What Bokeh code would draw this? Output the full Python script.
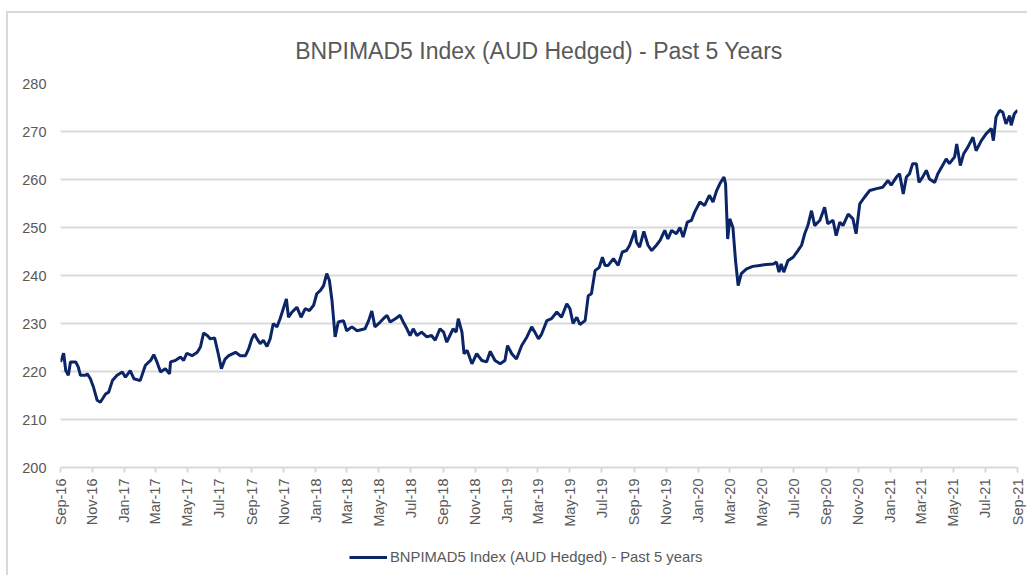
import pandas as pd
from bokeh.plotting import figure
from bokeh.layouts import column
from bokeh.models import (ColumnDataSource, Range1d, MonthsTicker, DatetimeTickFormatter,
                          SingleIntervalTicker, Legend, LegendItem)
from bokeh.embed import file_html
from bokeh.resources import INLINE
from math import pi

title_text = "BNPIMAD5 Index (AUD Hedged) - Past 5 Years"
series_name = "BNPIMAD5 Index (AUD Hedged) - Past 5 years"

dates = [
    "2016-09-01", "2016-09-07", "2016-09-11", "2016-09-16", "2016-09-20", "2016-09-30",
    "2016-10-05", "2016-10-09", "2016-10-19", "2016-10-22", "2016-10-28", "2016-11-03",
    "2016-11-10", "2016-11-16", "2016-11-26", "2016-12-02", "2016-12-09", "2016-12-18",
    "2016-12-28", "2017-01-03", "2017-01-12", "2017-01-19", "2017-01-31", "2017-02-10",
    "2017-02-20", "2017-02-26", "2017-03-04", "2017-03-11", "2017-03-20", "2017-03-28",
    "2017-03-30", "2017-04-08", "2017-04-18", "2017-04-24", "2017-04-30", "2017-05-10",
    "2017-05-20", "2017-05-26", "2017-06-01", "2017-06-08", "2017-06-14", "2017-06-22",
    "2017-06-29", "2017-07-05", "2017-07-12", "2017-07-19", "2017-08-01", "2017-08-10",
    "2017-08-20", "2017-08-26", "2017-09-01", "2017-09-06", "2017-09-11", "2017-09-17",
    "2017-09-23", "2017-09-30", "2017-10-06", "2017-10-12", "2017-10-19", "2017-10-25",
    "2017-11-01", "2017-11-06", "2017-11-10", "2017-11-17", "2017-11-26", "2017-12-04",
    "2017-12-12", "2017-12-20", "2017-12-28", "2018-01-03", "2018-01-10", "2018-01-16",
    "2018-01-22", "2018-01-27", "2018-02-01", "2018-02-07", "2018-02-13", "2018-02-23",
    "2018-03-01", "2018-03-11", "2018-03-21", "2018-04-05", "2018-04-12", "2018-04-18",
    "2018-04-24", "2018-05-04", "2018-05-10", "2018-05-17", "2018-05-23", "2018-06-02",
    "2018-06-11", "2018-06-17", "2018-06-24", "2018-06-30", "2018-07-06", "2018-07-13",
    "2018-07-22", "2018-08-01", "2018-08-10", "2018-08-17", "2018-08-26", "2018-09-02",
    "2018-09-08", "2018-09-14", "2018-09-20", "2018-09-26", "2018-09-30", "2018-10-07",
    "2018-10-11", "2018-10-17", "2018-10-26", "2018-11-04", "2018-11-14", "2018-11-23",
    "2018-11-30", "2018-12-09", "2018-12-19", "2018-12-28", "2019-01-02", "2019-01-10",
    "2019-01-19", "2019-01-29", "2019-02-08", "2019-02-17", "2019-02-23", "2019-03-02",
    "2019-03-08", "2019-03-18", "2019-03-27", "2019-04-06", "2019-04-15", "2019-04-25",
    "2019-05-01", "2019-05-07", "2019-05-14", "2019-05-20", "2019-05-30", "2019-06-05",
    "2019-06-11", "2019-06-18", "2019-06-26", "2019-07-02", "2019-07-07", "2019-07-13",
    "2019-07-23", "2019-08-01", "2019-08-09", "2019-08-17", "2019-08-23", "2019-09-02",
    "2019-09-05", "2019-09-11", "2019-09-19", "2019-09-27", "2019-10-04", "2019-10-13",
    "2019-10-20", "2019-10-29", "2019-11-04", "2019-11-11", "2019-11-20", "2019-11-27",
    "2019-12-03", "2019-12-11", "2019-12-19", "2019-12-25", "2020-01-04", "2020-01-13",
    "2020-01-22", "2020-01-29", "2020-02-05", "2020-02-11", "2020-02-19", "2020-02-22",
    "2020-02-26", "2020-03-01", "2020-03-07", "2020-03-12", "2020-03-17", "2020-03-23",
    "2020-04-02", "2020-04-14", "2020-04-27", "2020-05-10", "2020-05-23", "2020-05-29",
    "2020-06-03", "2020-06-07", "2020-06-12", "2020-06-20", "2020-06-30", "2020-07-09",
    "2020-07-16", "2020-07-22", "2020-07-28", "2020-08-04", "2020-08-10", "2020-08-20",
    "2020-08-29", "2020-09-04", "2020-09-14", "2020-09-20", "2020-09-27", "2020-10-03",
    "2020-10-13", "2020-10-22", "2020-10-28", "2020-11-04", "2020-11-13", "2020-11-23",
    "2020-12-06", "2020-12-18", "2020-12-28", "2021-01-03", "2021-01-13", "2021-01-19",
    "2021-01-26", "2021-02-01", "2021-02-07", "2021-02-13", "2021-02-20", "2021-02-25",
    "2021-03-04", "2021-03-11", "2021-03-17", "2021-03-27", "2021-04-02", "2021-04-11",
    "2021-04-18", "2021-04-24", "2021-05-04", "2021-05-08", "2021-05-15", "2021-05-21",
    "2021-05-29", "2021-06-08", "2021-06-14", "2021-06-24", "2021-07-03", "2021-07-13",
    "2021-07-17", "2021-07-22", "2021-07-29", "2021-08-04", "2021-08-10", "2021-08-17",
    "2021-08-20", "2021-08-26", "2021-09-01",
]

values = [
    222.0, 223.8, 220.2, 219.2, 222.0, 222.0,
    220.9, 219.2, 219.2, 219.5, 218.5, 216.7,
    214.0, 213.6, 215.3, 215.7, 218.1, 219.2,
    219.9, 218.8, 220.2, 218.5, 218.1, 221.3,
    222.3, 223.5, 222.0, 219.9, 220.6, 219.5,
    222.0, 222.3, 223.0, 222.3, 223.8, 223.3,
    224.0, 225.1, 228.0, 227.5, 226.8, 227.0,
    223.7, 220.6, 222.6, 223.3, 224.0, 223.3,
    223.3, 224.7, 226.8, 227.8, 226.8, 225.8,
    226.5, 225.2, 226.8, 230.0, 229.3, 231.0,
    233.4, 235.1, 231.3, 232.4, 233.4, 231.3,
    233.1, 232.7, 233.8, 236.2, 236.9, 237.9,
    240.4, 239.0, 234.8, 227.2, 230.3, 230.6,
    228.5, 229.3, 228.5, 228.9, 230.6, 232.6,
    229.3, 230.3, 231.0, 231.7, 230.3, 231.0,
    231.7, 230.3, 228.9, 227.5, 228.9, 227.5,
    228.2, 227.2, 227.5, 226.5, 228.9, 228.2,
    226.1, 227.5, 228.9, 228.2, 231.0, 228.2,
    223.7, 224.4, 221.6, 223.7, 222.3, 222.0,
    224.2, 222.3, 221.6, 222.3, 225.4, 223.7,
    222.6, 225.4, 227.2, 229.3, 228.2, 226.8,
    227.8, 230.6, 231.0, 232.4, 231.3, 234.1,
    233.1, 230.0, 231.3, 229.8, 230.6, 235.8,
    236.2, 241.0, 241.7, 243.8, 242.1, 242.1,
    243.5, 242.1, 244.9, 245.2, 246.3, 249.4,
    247.0, 245.9, 249.2, 246.3, 245.2, 246.3,
    247.3, 249.4, 247.6, 249.4, 248.7, 250.0,
    248.0, 251.1, 251.5, 253.2, 255.3, 254.6,
    256.7, 255.3, 257.7, 259.1, 260.5, 259.1,
    247.6, 251.8, 250.0, 243.1, 237.9, 240.4,
    241.4, 241.9, 242.1, 242.3, 242.4, 242.8,
    240.7, 242.4, 240.7, 243.1, 243.8, 245.2,
    246.3, 248.7, 250.4, 253.5, 250.4, 251.5,
    254.2, 250.8, 251.5, 248.3, 251.1, 250.4,
    252.8, 251.8, 248.7, 254.9, 256.3, 257.7,
    258.1, 258.4, 259.8, 258.8, 260.5, 261.2,
    257.0, 260.5, 261.2, 263.3, 263.3, 259.4,
    260.5, 261.9, 260.1, 259.4, 261.2, 262.9,
    264.3, 263.3, 264.7, 267.4, 262.9, 265.3,
    266.7, 268.8, 266.0, 268.1, 269.5, 270.6,
    268.1, 273.0, 274.4, 274.0, 271.6, 273.3,
    271.3, 273.7, 274.4,
]

y_min, y_max, y_step = 200, 280, 10
x_start, x_end = "2016-09-01", "2021-09-01"

FONT = "Liberation Sans"
GREY_TEXT = "#595959"
GRID = "#d9d9d9"
LINE = "#0b2566"
LINE_W = 3

src = ColumnDataSource(data=dict(date=pd.to_datetime(dates), value=values))

p = figure(width=1019, height=522, output_backend="svg", toolbar_location=None,
           x_axis_type="datetime",
           x_range=Range1d(pd.Timestamp(x_start), pd.Timestamp(x_end)),
           y_range=Range1d(y_min, y_max),
           min_border_left=52, min_border_right=10, min_border_top=70, min_border_bottom=68)
p.outline_line_color = None
p.background_fill_color = "white"
p.border_fill_color = "white"

p.title.text = title_text
p.title.align = "center"
p.title.text_font = FONT
p.title.text_font_size = "23px"
p.title.text_font_style = "normal"
p.title.text_color = GREY_TEXT
p.title.standoff = 40

r_main = p.line("date", "value", source=src, line_color=LINE, line_width=LINE_W)

# y axis
p.yaxis.ticker = SingleIntervalTicker(interval=y_step)
p.yaxis.axis_line_color = None
p.yaxis.major_tick_line_color = None
p.yaxis.minor_tick_line_color = None
p.yaxis.major_tick_out = 0
p.yaxis.major_label_standoff = 10
p.yaxis.major_label_text_font = FONT
p.yaxis.major_label_text_font_size = "14.5px"
p.yaxis.major_label_text_color = GREY_TEXT
p.ygrid.grid_line_color = GRID
p.ygrid.grid_line_width = 2

# x axis
p.xaxis.ticker = MonthsTicker(months=[0, 2, 4, 6, 8, 10])
p.xaxis.formatter = DatetimeTickFormatter(months="%b-%y", days="%b-%y")
p.xaxis.major_label_orientation = pi / 2
p.xaxis.axis_line_color = GRID
p.xaxis.axis_line_width = 2
p.xaxis.major_tick_line_color = GRID
p.xaxis.major_tick_line_width = 2
p.xaxis.major_tick_out = 5
p.xaxis.major_tick_in = 0
p.xaxis.minor_tick_line_color = None
p.xaxis.major_label_standoff = 6
p.xaxis.major_label_text_font = FONT
p.xaxis.major_label_text_font_size = "14.5px"
p.xaxis.major_label_text_color = GREY_TEXT
p.xgrid.grid_line_color = None

# legend strip below the chart (same series, its ranges keep the line out of view)
pl = figure(width=1019, height=40, output_backend="svg", toolbar_location=None,
            x_range=Range1d(0, 1), y_range=Range1d(0, 1),
            min_border=0, min_border_left=52, min_border_right=10)
pl.axis.visible = False
pl.grid.visible = False
pl.outline_line_color = None
pl.background_fill_color = "white"
pl.border_fill_color = "white"
r_leg = pl.line("date", "value", source=src, line_color=LINE, line_width=LINE_W)
legend = Legend(items=[LegendItem(label=series_name, renderers=[r_leg])],
                location=(289, 8), orientation="horizontal",
                label_text_font=FONT, label_text_font_size="14.8px",
                label_text_color=GREY_TEXT, glyph_width=38, label_standoff=3,
                border_line_color=None, background_fill_alpha=0,
                margin=0, padding=5)
pl.add_layout(legend, "center")

layout = column(p, pl, spacing=0, margin=(11, 0, 0, 6),
                styles={"border-top": "2px solid #d9d9d9", "border-left": "2px solid #d9d9d9"})
open("out.html", "w").write(file_html(layout, INLINE))
